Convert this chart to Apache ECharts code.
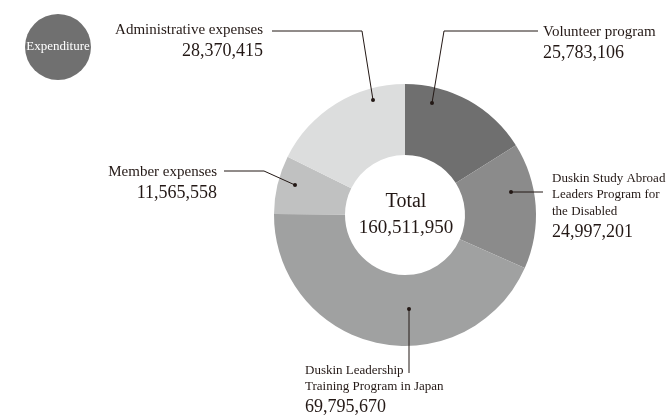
<!DOCTYPE html>
<html>
<head>
<meta charset="utf-8">
<script src="https://cdn.jsdelivr.net/npm/echarts@6/dist/echarts.min.js"></script>
<style>html,body{margin:0;padding:0;background:#fff;}#c{width:669px;height:418px;}</style>
</head>
<body>
<div id="c"></div>
<script>
const categories = ['Volunteer program', 'Duskin Study Abroad\nLeaders Program for\nthe Disabled', 'Duskin Leadership\nTraining Program in Japan', 'Member expenses', 'Administrative expenses'];
const values = [25783106, 24997201, 69795670, 11565558, 28370415];
const colors = ['#6f6f6f', '#8b8b8b', '#a0a1a1', '#c0c1c1', '#dcdddd'];
const smallLabel = [false, true, true, false, false];

// label placement (style only)
const layout = [
  {x: 543, y: 22, align: 'left', line: [[432, 103], [444, 31], [538, 31]]},
  {x: 552, y: 170, align: 'left', line: [[511, 192], [543, 192]]},
  {x: 305, y: 362, align: 'left', line: [[409, 309], [409, 373]]},
  {x: 217, y: 162, align: 'right', line: [[295, 185], [264, 171], [224, 171]]},
  {x: 263, y: 20, align: 'right', line: [[373, 100], [362, 31], [272, 31]]}
];

const total = values.reduce((a, b) => a + b, 0);
const fmt = v => v.toLocaleString('en-US');
const FONT = '"Liberation Serif", "DejaVu Serif", serif';
const TXT = '#231815';

const chart = echarts.init(document.getElementById('c'), null, {renderer: 'canvas'});

const data = categories.map((n, i) => ({
  name: n,
  value: values[i],
  itemStyle: {color: colors[i]}
}));

const graphics = [
  {type: 'circle', shape: {cx: 58, cy: 47, r: 33}, style: {fill: '#707070'}},
  {type: 'text', x: 58, y: 47, style: {text: 'Expenditure', fill: '#fff', font: '13px ' + FONT, textAlign: 'center', textVerticalAlign: 'middle'}},
  {type: 'text', x: 406, y: 202, style: {text: 'Total', fill: TXT, font: '20px ' + FONT, textAlign: 'center', textVerticalAlign: 'middle'}},
  {type: 'text', x: 406, y: 228, style: {text: fmt(total), fill: TXT, font: '19px ' + FONT, textAlign: 'center', textVerticalAlign: 'middle'}}
];
layout.forEach(l => {
  graphics.push({type: 'polyline', z: 100, shape: {points: l.line}, style: {stroke: TXT, lineWidth: 1, fill: null}});
  graphics.push({type: 'circle', z: 101, shape: {cx: l.line[0][0], cy: l.line[0][1], r: 2}, style: {fill: TXT}});
});

chart.setOption({
  animation: false,
  backgroundColor: '#fff',
  graphic: graphics,
  series: [{
    type: 'pie',
    center: [405, 215],
    radius: [60, 131],
    startAngle: 90,
    clockwise: true,
    data: data,
    label: {
      show: true,
      position: 'outside',
      overflow: 'none',
      formatter: p => {
        const i = p.dataIndex;
        const lines = p.name.split('\n').map(s => (smallLabel[i] ? '{s|' : '{a|') + s + '}').join('\n');
        return lines + '\n' + (smallLabel[i] ? '{bs|' : '{b|') + fmt(p.value) + '}';
      },
      rich: {
        a: {fontFamily: FONT, fontSize: 15, color: TXT, lineHeight: 20},
        s: {fontFamily: FONT, fontSize: 13, color: TXT, lineHeight: 16.5},
        b: {fontFamily: FONT, fontSize: 18, color: TXT, lineHeight: 22},
        bs: {fontFamily: FONT, fontSize: 18, color: TXT, lineHeight: 25}
      }
    },
    labelLine: {show: false},
    labelLayout: function (params) {
      const l = layout[params.dataIndex];
      return {x: l.x, y: l.y, align: l.align, verticalAlign: 'top'};
    },
    emphasis: {disabled: true}
  }]
});
</script>
</body>
</html>
